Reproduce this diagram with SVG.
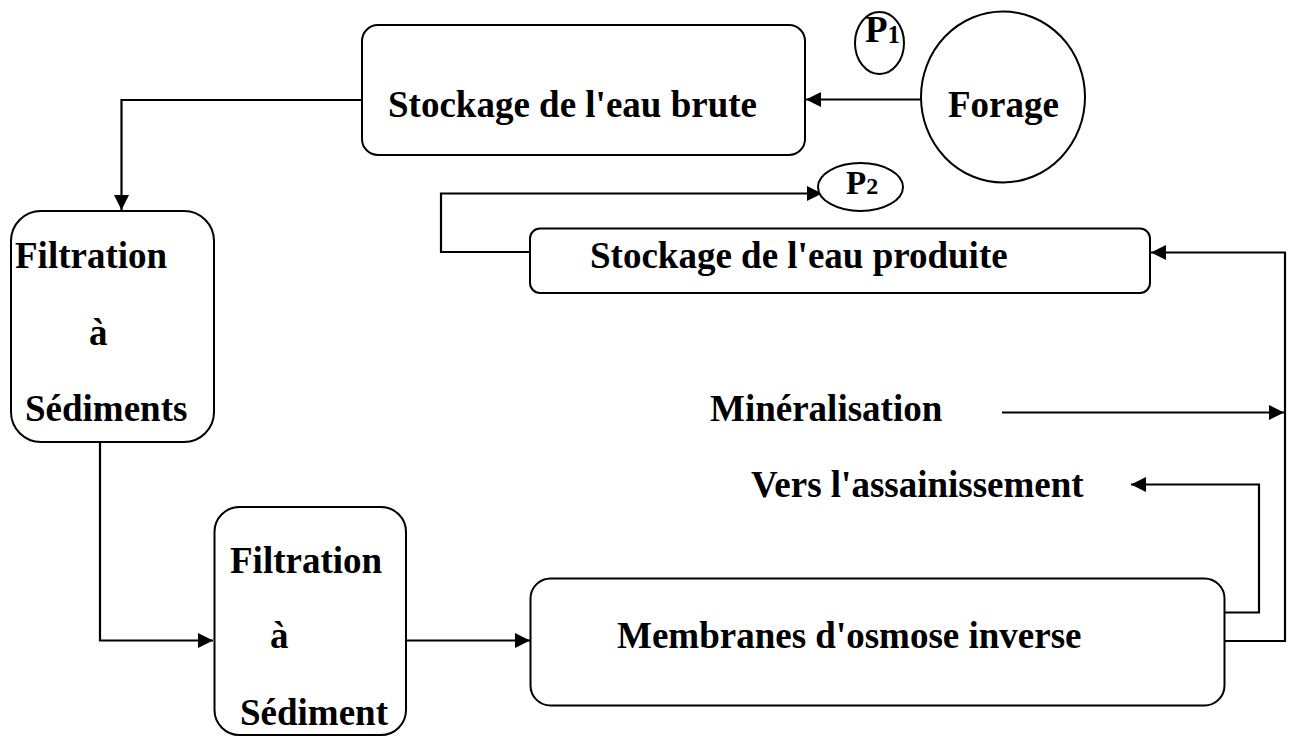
<svg xmlns="http://www.w3.org/2000/svg" width="1291" height="736" viewBox="0 0 1291 736">
<style>
.box{fill:#fff;stroke:#000;stroke-width:2}
.t{font-family:"Liberation Serif","Times New Roman",serif;font-weight:bold;font-size:37px;fill:#000}
.sub{font-size:25px}
.c{fill:none;stroke:#000;stroke-width:2.2}
</style>
<defs>
<marker id="ah" markerUnits="userSpaceOnUse" markerWidth="16" markerHeight="16" viewBox="0 0 16 16" refX="15" refY="8" orient="auto">
<path d="M0,0.5 L15,8 L0,15.5 Z" fill="#000"/>
</marker>
</defs>
<g id="connectors">
<path class="c" d="M921,99.5 L806,99.5" marker-end="url(#ah)"/>
<path class="c" d="M362,100 L121.5,100 L121.5,210" marker-end="url(#ah)"/>
<path class="c" d="M100,442 L100,640.5 L213,640.5" marker-end="url(#ah)"/>
<path class="c" d="M406,640.5 L530,640.5" marker-end="url(#ah)"/>
<path class="c" d="M1225,641 L1285,641 L1285,252.5 L1151,252.5" marker-end="url(#ah)"/>
<path class="c" d="M1002,412.5 L1284,412.5" marker-end="url(#ah)"/>
<path class="c" d="M1225,612.5 L1259,612.5 L1259,484.5 L1131,484.5" marker-end="url(#ah)"/>
<path class="c" d="M530,252 L441,252 L441,193.5 L822,193.5" marker-end="url(#ah)"/>
</g>
<g id="stockage-brute">
<rect class="box" x="362" y="25" width="443" height="130" rx="16"/>
<text class="t" x="388" y="117">Stockage de l'eau brute</text>
</g>
<g id="forage">
<ellipse class="box" cx="1003" cy="97" rx="82" ry="85.5"/>
<text class="t" x="948" y="117">Forage</text>
</g>
<g id="p1">
<ellipse class="box" cx="879.5" cy="43" rx="24.5" ry="31"/>
<text class="t" x="865" y="42">P<tspan class="sub" dy="1">1</tspan></text>
</g>
<g id="p2">
<ellipse class="box" cx="860.5" cy="187" rx="42.5" ry="24"/>
<text class="t" x="846" y="194" style="font-size:33px">P<tspan style="font-size:24px">2</tspan></text>
</g>
<g id="stockage-produite">
<rect class="box" x="530" y="228.5" width="620" height="64.5" rx="10"/>
<text class="t" x="590" y="268">Stockage de l'eau produite</text>
</g>
<g id="filtration-sediments">
<rect class="box" x="11" y="211" width="203" height="231" rx="30"/>
<text class="t" x="15" y="268">Filtration</text>
<text class="t" x="89" y="345">à</text>
<text class="t" x="25" y="420.5">Sédiments</text>
</g>
<g id="filtration-sediment">
<rect class="box" x="214.5" y="507" width="191.5" height="228" rx="25"/>
<text class="t" x="230" y="573">Filtration</text>
<text class="t" x="270" y="648">à</text>
<text class="t" x="240" y="725">Sédiment</text>
</g>
<g id="membranes">
<rect class="box" x="530.5" y="578.5" width="694" height="127" rx="20"/>
<text class="t" x="617" y="648">Membranes d'osmose inverse</text>
</g>
<g id="mineralisation">
<text class="t" x="710" y="421">Minéralisation</text>
</g>
<g id="assainissement">
<text class="t" x="751" y="497">Vers l'assainissement</text>
</g>
</svg>
